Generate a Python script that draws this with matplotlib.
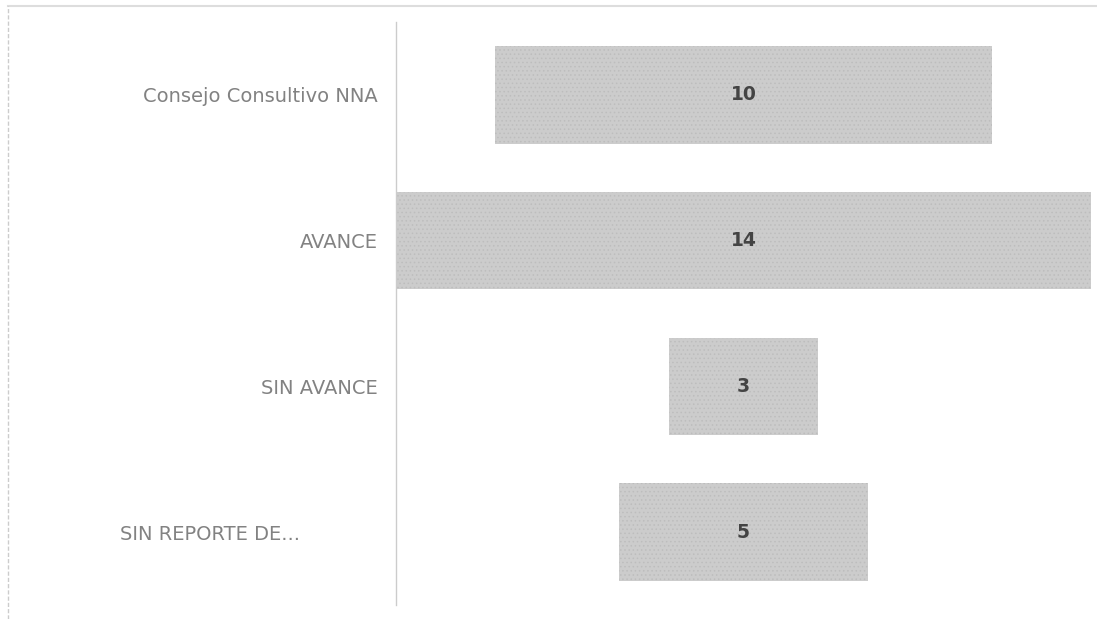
import matplotlib.pyplot as plt
from matplotlib.transforms import ScaledTranslation
from matplotlib.lines import Line2D

categories = ["Consejo Consultivo NNA", "AVANCE", "SIN AVANCE", "SIN REPORTE DE..."]
values = [10, 14, 3, 5]

plt.rcParams["font.family"] = ["DejaVu Sans"]
plt.rcParams["hatch.linewidth"] = 0.6

fig = plt.figure(figsize=(10.97, 6.19), dpi=100)
# ejes: x 396..1091 px, y 22..605 px
ax = fig.add_axes([396 / 1097, 1 - 605 / 619, 695 / 1097, 583 / 619])

vmax = max(values)
for i, v in enumerate(values):
    left = (vmax - v) / 2
    ax.barh(i, v, left=left, height=0.67, color="#cccccc",
            edgecolor="#bdbdbd", hatch="....", linewidth=0)
    ax.text(left + v / 2, i, str(v), ha="center", va="center",
            fontsize=13.5, fontweight="bold", color="#444444")

ax.set_xlim(0, vmax)
ax.set_ylim(len(values) - 0.5, -0.5)
ax.set_xticks([])
ax.set_yticks(range(len(categories)))
ax.set_yticklabels(categories, fontsize=14, color="#828282")
ax.tick_params(axis="y", length=0, pad=13)
for s in ["top", "right", "bottom"]:
    ax.spines[s].set_visible(False)
ax.spines["left"].set_color("#cccccc")
ax.spines["left"].set_linewidth(1)

# la ultima etiqueta esta mas a la izquierda
lbl = ax.get_yticklabels()[-1]
lbl.set_transform(lbl.get_transform() + ScaledTranslation(-0.78, 0, fig.dpi_scale_trans))

# marco exterior
fig.add_artist(Line2D([8 / 1097, 1], [1 - 6 / 619, 1 - 6 / 619], color="#dddddd", lw=1.5))
fig.add_artist(Line2D([8 / 1097, 8 / 1097], [0, 1 - 6 / 619], color="#cccccc", lw=1, ls=(0, (3, 1.5))))

fig.savefig("out.png", dpi=100)
